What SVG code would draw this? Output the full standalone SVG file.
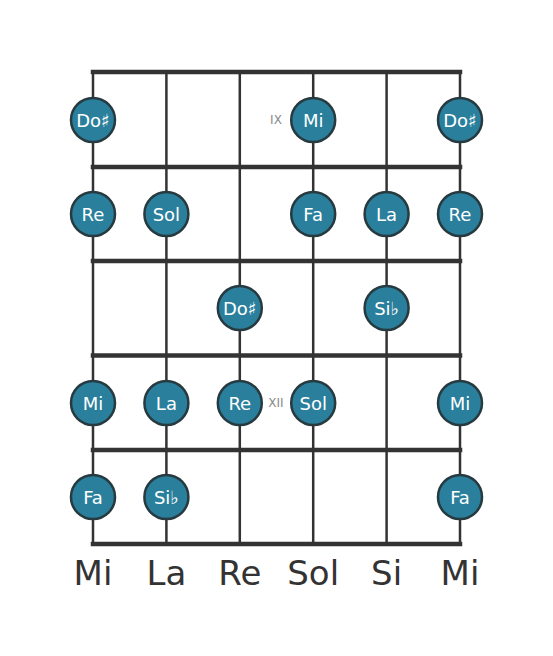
<svg xmlns="http://www.w3.org/2000/svg" width="553" height="656" viewBox="0 0 553 656">
<style>
.fret{stroke:#333;stroke-width:4.5;stroke-linecap:square}
.str{stroke:#333;stroke-width:2.5}
.n circle{fill:#2a7f9c;stroke:#263a40;stroke-width:2.5}
.n text{fill:#fff;font-family:"DejaVu Sans",sans-serif;font-size:18px;text-anchor:middle;dominant-baseline:central}
.pos{fill:#8a8a8a;font-family:"DejaVu Sans",sans-serif;font-size:12px;text-anchor:middle;dominant-baseline:central}
.lbl{fill:#333;font-family:"DejaVu Sans",sans-serif;font-size:34px;text-anchor:middle}
</style>
<rect width="553" height="656" fill="#fff"/>
<g id="connectors">
<line class="str" x1="93" y1="72" x2="93" y2="545"/>
<line class="str" x1="166.4" y1="72" x2="166.4" y2="545"/>
<line class="str" x1="239.8" y1="72" x2="239.8" y2="545"/>
<line class="str" x1="313.2" y1="72" x2="313.2" y2="545"/>
<line class="str" x1="386.6" y1="72" x2="386.6" y2="545"/>
<line class="str" x1="460" y1="72" x2="460" y2="545"/>
<line class="fret" x1="93" y1="72" x2="460" y2="72"/>
<line class="fret" x1="93" y1="167" x2="460" y2="167"/>
<line class="fret" x1="93" y1="261" x2="460" y2="261"/>
<line class="fret" x1="93" y1="355.5" x2="460" y2="355.5"/>
<line class="fret" x1="93" y1="450" x2="460" y2="450"/>
<line class="fret" x1="93" y1="544" x2="460" y2="544"/>
</g>
<text class="pos" x="276" y="120">IX</text>
<text class="pos" x="276" y="403">XII</text>
<g id="n1" class="n"><circle cx="93" cy="120" r="22"/><text x="93" y="120">Do♯</text></g>
<g id="n2" class="n"><circle cx="313.2" cy="120" r="22"/><text x="313.2" y="120">Mi</text></g>
<g id="n3" class="n"><circle cx="460" cy="120" r="22"/><text x="460" y="120">Do♯</text></g>
<g id="n4" class="n"><circle cx="93" cy="214" r="22"/><text x="93" y="214">Re</text></g>
<g id="n5" class="n"><circle cx="166.4" cy="214" r="22"/><text x="166.4" y="214">Sol</text></g>
<g id="n6" class="n"><circle cx="313.2" cy="214" r="22"/><text x="313.2" y="214">Fa</text></g>
<g id="n7" class="n"><circle cx="386.6" cy="214" r="22"/><text x="386.6" y="214">La</text></g>
<g id="n8" class="n"><circle cx="460" cy="214" r="22"/><text x="460" y="214">Re</text></g>
<g id="n9" class="n"><circle cx="239.8" cy="308" r="22"/><text x="239.8" y="308">Do♯</text></g>
<g id="n10" class="n"><circle cx="386.6" cy="308" r="22"/><text x="386.6" y="308">Si♭</text></g>
<g id="n11" class="n"><circle cx="93" cy="403" r="22"/><text x="93" y="403">Mi</text></g>
<g id="n12" class="n"><circle cx="166.4" cy="403" r="22"/><text x="166.4" y="403">La</text></g>
<g id="n13" class="n"><circle cx="239.8" cy="403" r="22"/><text x="239.8" y="403">Re</text></g>
<g id="n14" class="n"><circle cx="313.2" cy="403" r="22"/><text x="313.2" y="403">Sol</text></g>
<g id="n15" class="n"><circle cx="460" cy="403" r="22"/><text x="460" y="403">Mi</text></g>
<g id="n16" class="n"><circle cx="93" cy="497" r="22"/><text x="93" y="497">Fa</text></g>
<g id="n17" class="n"><circle cx="166.4" cy="497" r="22"/><text x="166.4" y="497">Si♭</text></g>
<g id="n18" class="n"><circle cx="460" cy="497" r="22"/><text x="460" y="497">Fa</text></g>
<text class="lbl" x="93" y="585">Mi</text>
<text class="lbl" x="166.4" y="585">La</text>
<text class="lbl" x="239.8" y="585">Re</text>
<text class="lbl" x="313.2" y="585">Sol</text>
<text class="lbl" x="386.6" y="585">Si</text>
<text class="lbl" x="460" y="585">Mi</text>
</svg>
